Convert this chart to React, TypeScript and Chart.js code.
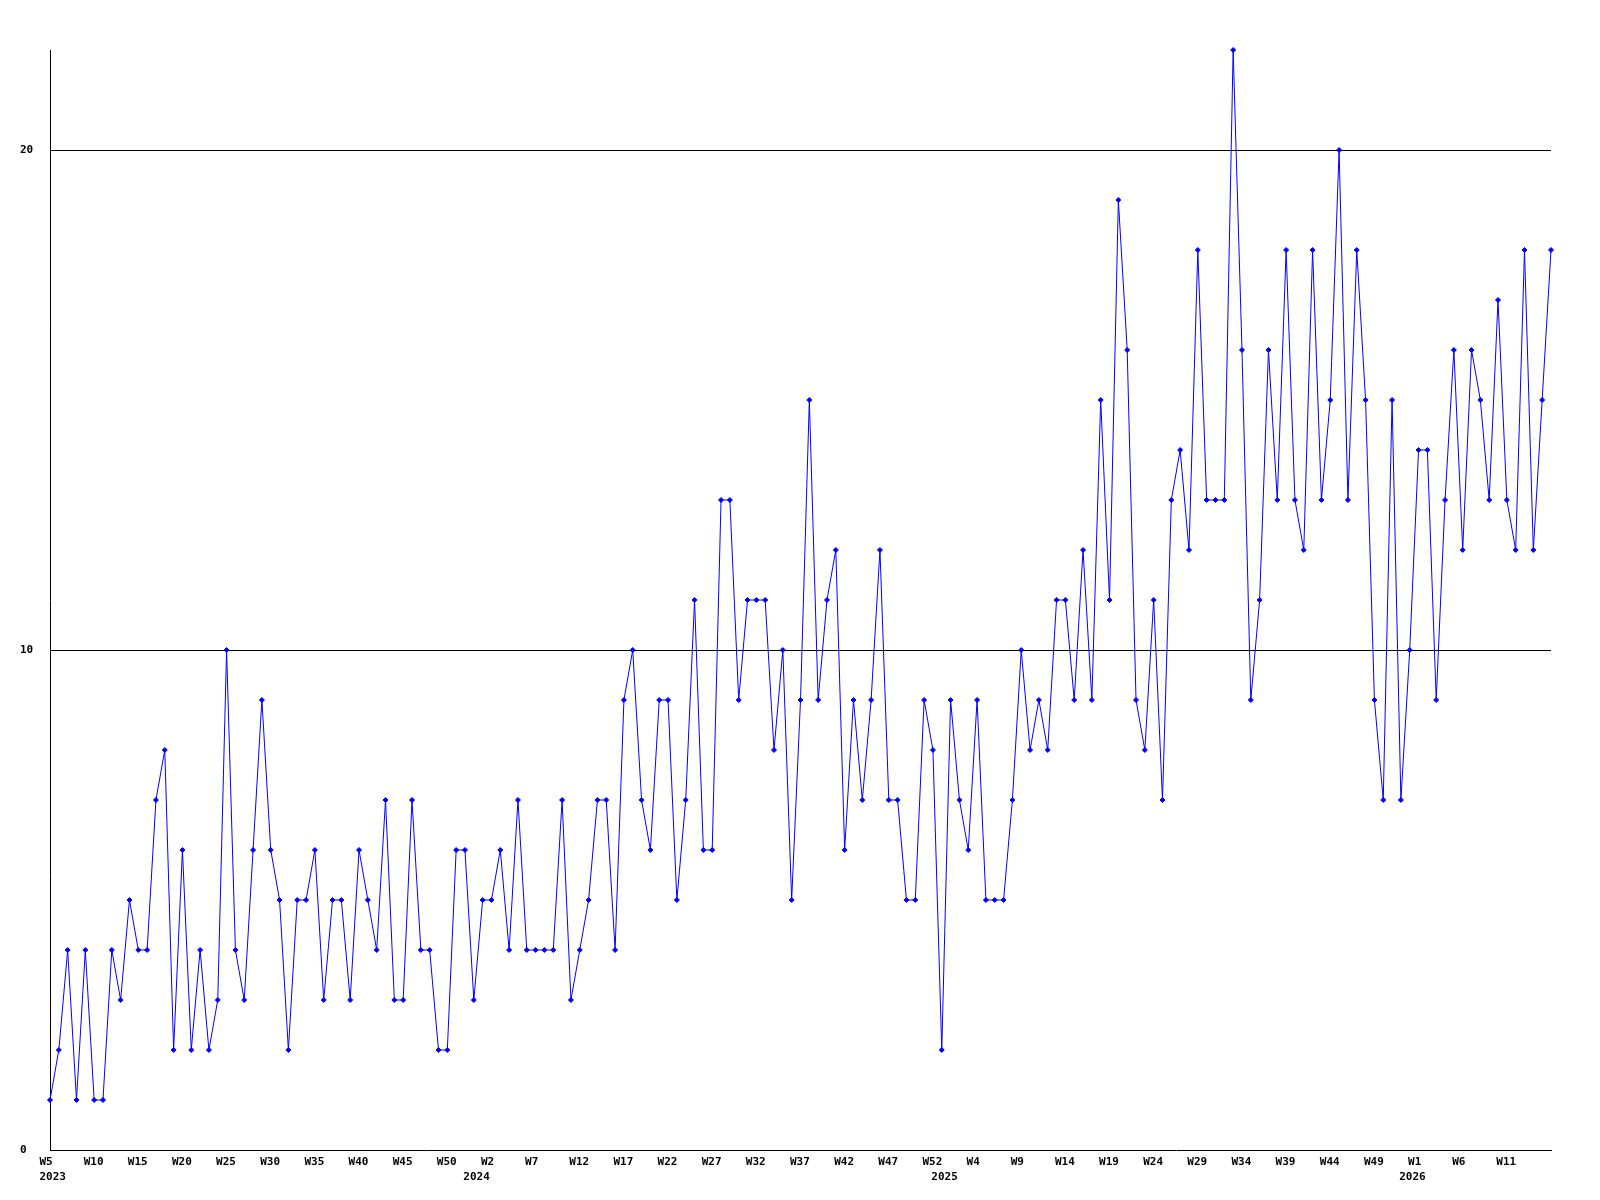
import React, { useEffect, useRef } from "react";
import { Chart, registerables } from "chart.js";

Chart.register(...registerables);

// Week segments per year (first / last week number shown for each year)
const years = [2023, 2024, 2025, 2026];
const firstWeeks = [5, 0, 0, 0];
const lastWeeks = [52, 52, 52, 16];

// Weekly values, one per week from 2023 W5 to 2026 W16
const values = [
  1, 2, 4, 1, 4, 1, 1, 4, 3, 5,
  4, 4, 7, 8, 2, 6, 2, 4, 2, 3,
  10, 4, 3, 6, 9, 6, 5, 2, 5, 5,
  6, 3, 5, 5, 3, 6, 5, 4, 7, 3,
  3, 7, 4, 4, 2, 2, 6, 6, 3, 5,
  5, 6, 4, 7, 4, 4, 4, 4, 7, 3,
  4, 5, 7, 7, 4, 9, 10, 7, 6, 9,
  9, 5, 7, 11, 6, 6, 13, 13, 9, 11,
  11, 11, 8, 10, 5, 9, 15, 9, 11, 12,
  6, 9, 7, 9, 12, 7, 7, 5, 5, 9,
  8, 2, 9, 7, 6, 9, 5, 5, 5, 7,
  10, 8, 9, 8, 11, 11, 9, 12, 9, 15,
  11, 19, 16, 9, 8, 11, 7, 13, 14, 12,
  18, 13, 13, 13, 22, 16, 9, 11, 16, 13,
  18, 13, 12, 18, 13, 15, 20, 13, 18, 15,
  9, 7, 15, 7, 10, 14, 14, 9, 13, 16,
  12, 16, 15, 13, 17, 13, 12, 18, 12, 15,
  18,
];

const yTicks = [0, 10, 20];
const yMax = 22;
const labelEvery = 5;

// Build categories from the year segments
const categories: { year: number; week: number; firstOfYear: boolean }[] = [];
years.forEach((y, i) => {
  for (let w = firstWeeks[i]; w <= lastWeeks[i]; w++) {
    categories.push({ year: y, week: w, firstOfYear: w === firstWeeks[i] });
  }
});
const labels = categories.map((c) => `${c.year}-W${c.week}`);

const FONT = { family: "'DejaVu Sans Mono', 'Liberation Mono', monospace", size: 11, weight: "bold" as const, lineHeight: 1.33 };

export default function App() {
  const ref = useRef<HTMLCanvasElement | null>(null);

  useEffect(() => {
    if (!ref.current) return;
    const chart = new Chart(ref.current, {
      type: "line",
      data: {
        labels,
        datasets: [
          {
            data: values,
            borderColor: "#0000ff",
            backgroundColor: "#0000ff",
            borderWidth: 1,
            tension: 0,
            pointStyle: "rectRot",
            pointRadius: 2.5,
            pointBorderWidth: 1,
            pointBackgroundColor: "#0000ff",
            pointBorderColor: "#0000ff",
            clip: false,
            fill: false,
          },
        ],
      },
      options: {
        animation: false,
        responsive: false,
        devicePixelRatio: 1,
        events: [],
        layout: { padding: { left: 20, right: 49, top: 50, bottom: 0 } },
        plugins: {
          legend: { display: false },
          tooltip: { enabled: false },
          title: { display: false },
        },
        scales: {
          x: {
            type: "category",
            offset: false,
            grid: { display: true, drawOnChartArea: false, drawTicks: false },
            border: { display: true, color: "#000000", width: 1 },
            afterFit: (scale: any) => {
              scale.height = 50;
            },
            ticks: {
              autoSkip: false,
              maxRotation: 0,
              minRotation: 0,
              align: "start",
              labelOffset: -10.5,
              padding: 5,
              color: "#000000",
              font: FONT,
              callback: (_v: any, i: number) => {
                const c = categories[i];
                if (!c || i === categories.length - 1) return "";
                const wk = i % labelEvery === 0 ? `W${c.week}` : "";
                const yr = c.firstOfYear ? `${c.year}` : "";
                if (!wk && !yr) return "";
                return yr ? [wk, yr] : wk;
              },
            },
          },
          y: {
            type: "linear",
            min: 0,
            max: yMax,
            afterFit: (scale: any) => {
              scale.width = 30;
            },
            afterBuildTicks: (scale: any) => {
              scale.ticks = yTicks.map((v) => ({ value: v }));
            },
            grid: {
              drawTicks: false,
              color: (ctx: any) => (ctx.tick && ctx.tick.value === 0 ? "rgba(0,0,0,0)" : "#000000"),
              lineWidth: 1,
            },
            border: { display: true, color: "#000000", width: 1 },
            ticks: {
              crossAlign: "far",
              padding: 0,
              color: "#000000",
              font: FONT,
              callback: (v: any) => `${v}`,
            },
          },
        },
      },
    });
    return () => chart.destroy();
  }, []);

  return (
    <div style={{ position: "absolute", left: 0, top: 0, width: 1600, height: 1200, background: "#ffffff" }}>
      <canvas ref={ref} width={1600} height={1200} style={{ display: "block", width: 1600, height: 1200 }} />
    </div>
  );
}
